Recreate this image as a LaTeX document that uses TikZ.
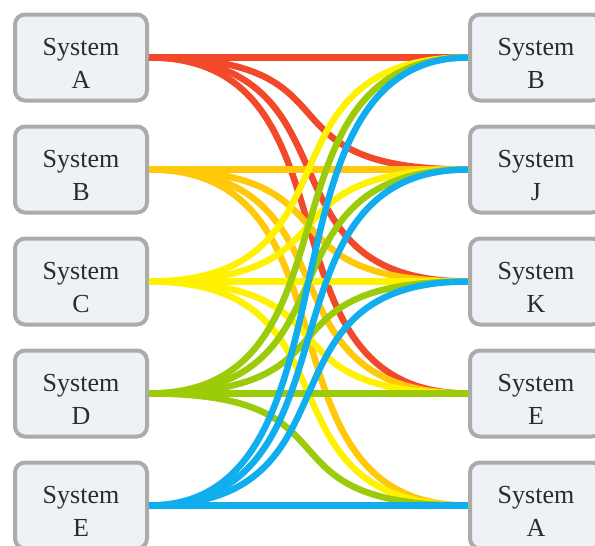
\documentclass[tikz,border=0pt]{standalone}
\usepackage{fontspec}
\setmainfont{Liberation Serif}
\usetikzlibrary{positioning}
\definecolor{linkRed}{HTML}{F2492A}
\definecolor{linkOrange}{HTML}{FFC808}
\definecolor{linkYellow}{HTML}{FFF200}
\definecolor{linkGreen}{HTML}{9CCB0A}
\definecolor{linkBlue}{HTML}{10AEEF}
\definecolor{boxBorder}{HTML}{ABABAB}
\definecolor{boxBg}{HTML}{EEF2F7}
\definecolor{boxText}{HTML}{2B2B2B}
% two-line box label, set a little below the box centre
\newcommand{\sysname}[1]{\raisebox{-6pt}[\height][\depth]{System}\\\raisebox{-6pt}[\height][\depth]{#1}}
\tikzset{
  sys/.style={draw=boxBorder, fill=boxBg, line width=4pt, rounded corners=10pt,
    minimum width=132pt, minimum height=86pt, align=center, inner sep=0pt,
    font=\fontsize{26}{33}\selectfont, text=boxText},
  link/.style={line width=6.5pt, draw=#1}
}

\begin{document}
\begin{tikzpicture}[x=1pt,y=-1pt]
  % page = 595 x 546, the bottom row of boxes runs off the lower edge
  \useasboundingbox (0,0) rectangle (595,546);
  % sources on the left
  \node[sys] (srcA) at (81,57.5) {\sysname{A}};
  \node[sys] (srcB) at (81,169.5) {\sysname{B}};
  \node[sys] (srcC) at (81,281.5) {\sysname{C}};
  \node[sys] (srcD) at (81,393.5) {\sysname{D}};
  \node[sys] (srcE) at (81,505.5) {\sysname{E}};
  % targets on the right
  \node[sys] (dstB) at (536,57.5) {\sysname{B}};
  \node[sys] (dstJ) at (536,169.5) {\sysname{J}};
  \node[sys] (dstK) at (536,281.5) {\sysname{K}};
  \node[sys] (dstE) at (536,393.5) {\sysname{E}};
  \node[sys] (dstA) at (536,505.5) {\sysname{A}};
  % flows, one colour per source
  \foreach \t in {dstB,dstJ,dstK,dstE}
    \draw[link=linkRed] (srcA.east) .. controls +(220,0) and +(-220,0) .. (\t.west);
  \foreach \t in {dstJ,dstK,dstE,dstA}
    \draw[link=linkOrange] (srcB.east) .. controls +(220,0) and +(-220,0) .. (\t.west);
  \foreach \t in {dstB,dstJ,dstK,dstE,dstA}
    \draw[link=linkYellow] (srcC.east) .. controls +(220,0) and +(-220,0) .. (\t.west);
  \foreach \t in {dstB,dstJ,dstK,dstE,dstA}
    \draw[link=linkGreen] (srcD.east) .. controls +(220,0) and +(-220,0) .. (\t.west);
  \foreach \t in {dstB,dstJ,dstK,dstA}
    \draw[link=linkBlue] (srcE.east) .. controls +(220,0) and +(-220,0) .. (\t.west);
\end{tikzpicture}
\end{document}
